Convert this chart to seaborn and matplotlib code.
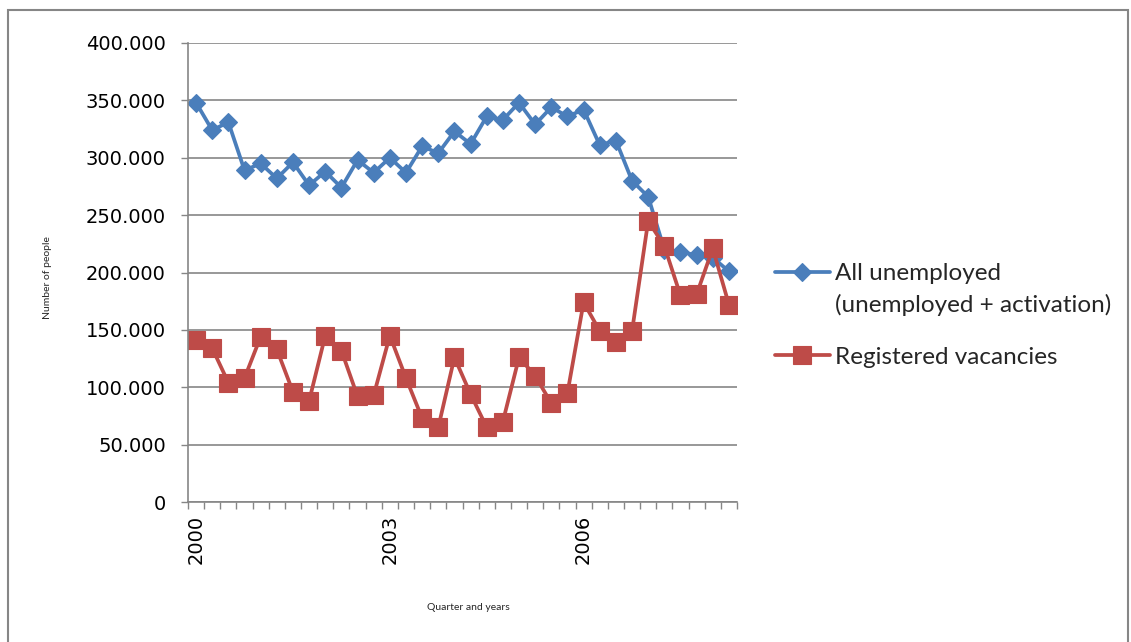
import numpy as np
import pandas as pd
import matplotlib
matplotlib.use("Agg")
import matplotlib.pyplot as plt
import seaborn as sns
from matplotlib.patches import Rectangle
from matplotlib.ticker import FuncFormatter, FixedLocator

# Quarterly periods 2000 Q1 - 2008 Q2
years = list(range(2000, 2009))
quarters = ["Q1", "Q2", "Q3", "Q4"]
periods = [f"{y} {q}" for y in years for q in quarters][:34]

# Number of people (thousands)
all_unemployed = [348, 324, 331, 289, 295, 282, 296, 276, 288, 274, 298, 287,
                  300, 287, 310, 304, 323, 312, 336, 333, 348, 329, 344, 336,
                  342, 311, 315, 280, 266, 220, 218, 215, 213, 201]
registered_vacancies = [141, 134, 104, 108, 144, 133, 96, 88, 145, 132, 92, 93,
                        145, 108, 73, 65, 126, 94, 65, 70, 126, 110, 86, 95,
                        174, 149, 139, 149, 245, 223, 180, 181, 221, 172]

year_labels = ["2000", "2003", "2006"]
year_label_periods = ["2000 Q1", "2003 Q1", "2006 Q1"]
y_ticks = [0, 50000, 100000, 150000, 200000, 250000, 300000, 350000, 400000]

series_names = ["All unemployed", "Registered vacancies"]
continuation = "(unemployed + activation)"

BLUE = "#4A7EBB"
RED = "#BE4B48"
GRID = "#868686"

sns.set_theme(style="white")
plt.rcParams["font.family"] = ["DejaVu Sans"]

W, H = 1131, 642
fig = plt.figure(figsize=(W / 100, H / 100), dpi=100)
ax = fig.add_axes([188 / W, 1 - 502 / H, (737 - 188) / W, (502 - 43) / H])

df = pd.DataFrame({
    "idx": np.arange(len(periods)),
    "period": periods,
    "unemployed": np.array(all_unemployed) * 1000,
    "vacancies": np.array(registered_vacancies) * 1000,
})

sns.lineplot(data=df, x="idx", y="unemployed", ax=ax, color=BLUE,
             marker="D", markersize=9, markeredgewidth=0.8,
             markeredgecolor=BLUE, linewidth=2.7, label=series_names[0])
sns.lineplot(data=df, x="idx", y="vacancies", ax=ax, color=RED,
             marker="s", markersize=12.5, markeredgewidth=0.8,
             markeredgecolor=RED, linewidth=2.7, label=series_names[1])

ax.set_xlim(-0.5, len(periods) - 0.5)
ax.set_ylim(0, 400000)
ax.set_yticks(y_ticks)
ax.yaxis.set_major_formatter(FuncFormatter(lambda v, p: f"{int(v):,}".replace(",", ".")))
ax.yaxis.grid(True, color=GRID, linewidth=1.2)
ax.xaxis.grid(False)
ax.set_axisbelow(True)

for side in ["top", "right"]:
    ax.spines[side].set_visible(False)
for side in ["left", "bottom"]:
    ax.spines[side].set_color(GRID)
    ax.spines[side].set_linewidth(1.2)

ax.tick_params(axis="y", direction="out", length=5, width=1, color=GRID,
               labelsize=14, pad=11, left=True, labelcolor="black")

# category boundary ticks, year labels at category centres
ax.xaxis.set_major_locator(FixedLocator(np.arange(-0.5, len(periods), 1.0)))
ax.xaxis.set_major_formatter(FuncFormatter(lambda v, p: ""))
pos_of = {p: i for i, p in enumerate(periods)}
ax.xaxis.set_minor_locator(FixedLocator([pos_of[p] for p in year_label_periods]))
ax.set_xticklabels(year_labels, minor=True, rotation=90)
ax.tick_params(axis="x", which="major", direction="out", length=5, width=1,
               color=GRID, bottom=True)
ax.tick_params(axis="x", which="minor", length=0, pad=9, labelsize=14,
               labelcolor="black", bottom=True)
for t in ax.xaxis.get_minorticklabels():
    t.set_verticalalignment("top")

ax.set_xlabel("")
ax.set_ylabel("")
fig.text(47 / W, 1 - 278 / H, "Number of people", rotation=90,
         ha="center", va="center", fontsize=7.5, family="Lato")
fig.text(468 / W, 1 - 607 / H, "Quarter and years",
         ha="center", va="center", fontsize=7.5, family="Lato")

handles, labels = ax.get_legend_handles_labels()
leg = ax.legend(handles, labels, loc="upper left",
                bbox_to_anchor=(775 / W, 1 - 263 / H), bbox_transform=fig.transFigure,
                frameon=False, prop={"family": "Lato", "size": 17.5},
                handlelength=2.26, handletextpad=0.2, labelspacing=2.58,
                numpoints=1, borderaxespad=0, borderpad=0)
fig.text(835 / W, 1 - 305 / H, continuation, ha="left", va="center",
         fontsize=17.5, family="Lato")

# outer chart frame
fig.patches.append(Rectangle((8 / W, -10 / H), (1128 - 8) / W, (642 - 10 + 10) / H,
                             transform=fig.transFigure, fill=False,
                             edgecolor=GRID, linewidth=1.5))

fig.savefig("out.png", dpi=100)
